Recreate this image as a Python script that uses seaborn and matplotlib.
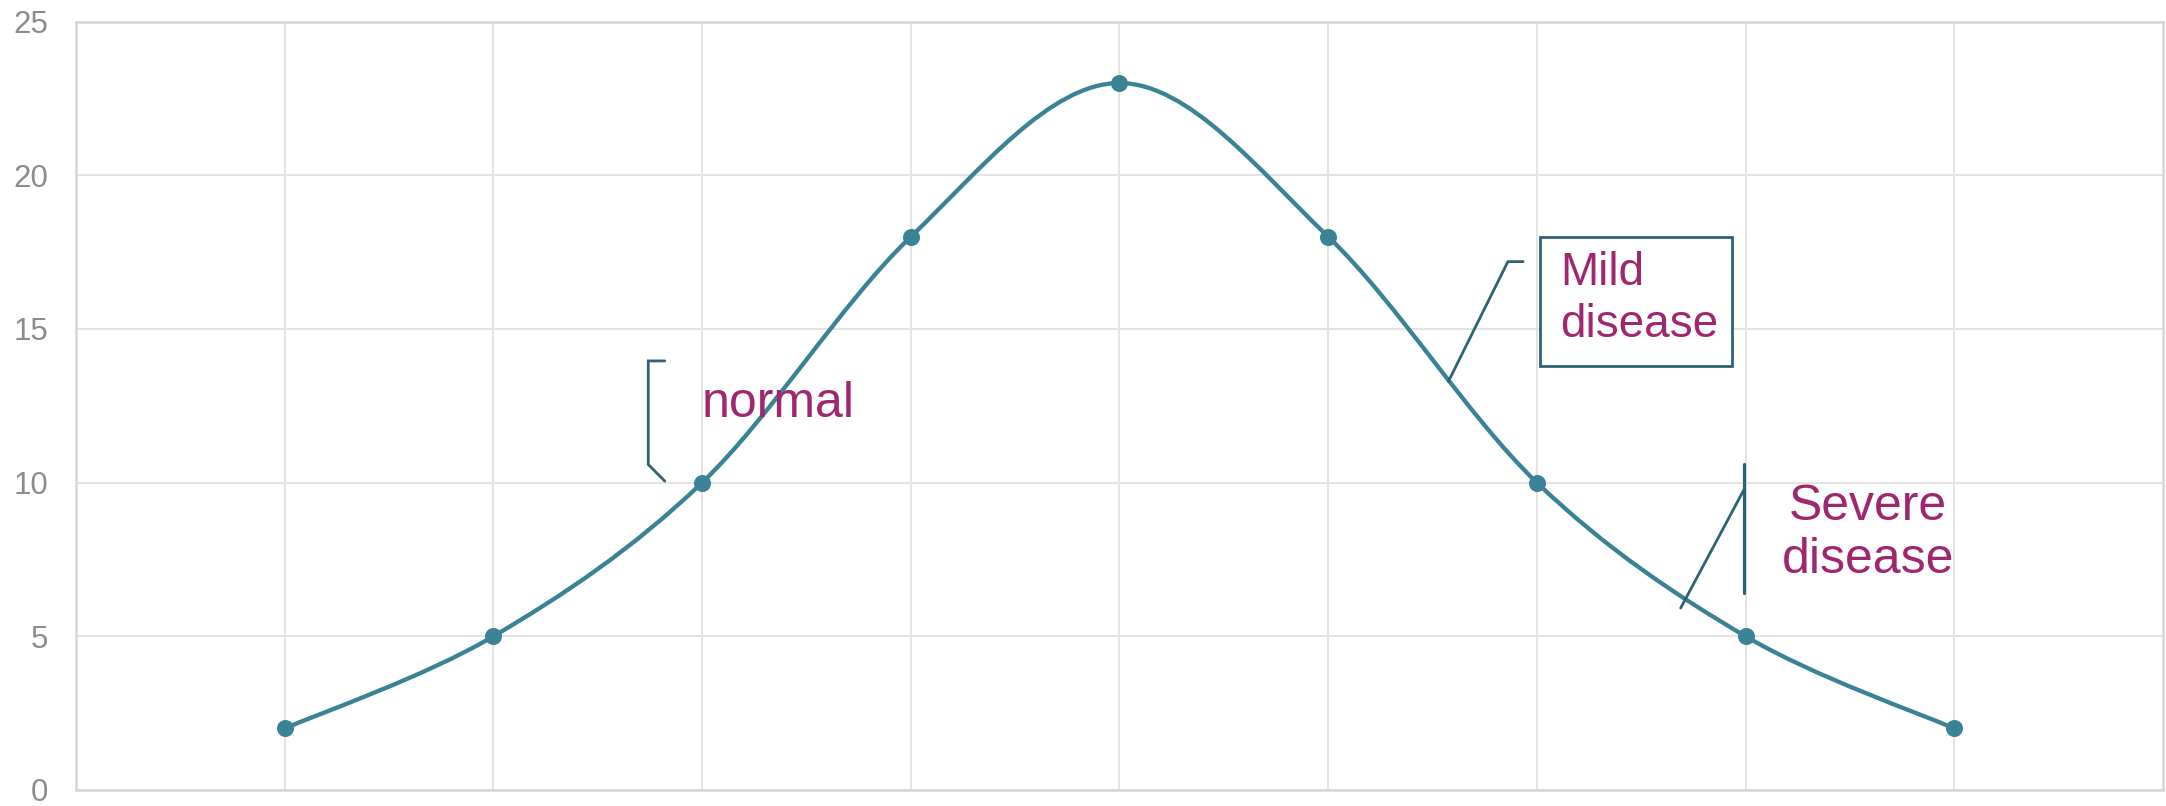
import matplotlib
matplotlib.use("Agg")
import matplotlib.pyplot as plt
import seaborn as sns
import numpy as np
import pandas as pd
from matplotlib.path import Path
from matplotlib.patches import PathPatch, Rectangle

# data
positions = [1, 2, 3, 4, 5, 6, 7, 8, 9]
values = [2, 5, 10, 18, 23, 18, 10, 5, 2]
y_ticks = [0, 5, 10, 15, 20, 25]

LINE = '#3A8296'
CALLOUT = '#2E6373'
TEXT = '#A0266E'
GRID = '#E3E3E3'

sns.set_style('white')
plt.rcParams['font.family'] = ['Liberation Sans', 'DejaVu Sans']

df = pd.DataFrame({'x': positions, 'y': values})

fig = plt.figure(figsize=(21.66, 8.06), dpi=100)
ax = fig.add_axes([0.0351, 0.0199, 0.9635, 0.9533])


def smooth_path(xs, ys, k=1 / 6):
    # bezier segments with catmull-rom style tangents (like a smoothed line chart)
    pts = np.column_stack([xs, ys]).astype(float)
    n = len(pts)
    verts = [pts[0]]
    codes = [Path.MOVETO]
    for i in range(n - 1):
        p0 = pts[max(i - 1, 0)]
        p1 = pts[i]
        p2 = pts[i + 1]
        p3 = pts[min(i + 2, n - 1)]
        c1 = p1 + (p2 - p0) * k
        c2 = p2 - (p3 - p1) * k
        verts += [c1, c2, p2]
        codes += [Path.CURVE4] * 3
    return Path(verts, codes)


ax.add_patch(PathPatch(smooth_path(df['x'], df['y']), facecolor='none',
                       edgecolor=LINE, lw=3.1, zorder=3, capstyle='round'))
sns.scatterplot(data=df, x='x', y='y', ax=ax, color=LINE, s=150,
                edgecolor=LINE, linewidth=0, zorder=4, legend=False)

ax.set_xlim(0, 10)
ax.set_ylim(0, 25)
ax.set_xticks(positions)
ax.set_xticklabels([])
ax.set_yticks(y_ticks)
ax.set_yticklabels([str(t) for t in y_ticks])
ax.tick_params(axis='y', length=0, pad=20, labelsize=22.5, labelcolor='#8C8C8C')
ax.tick_params(axis='x', length=0)
ax.grid(True, color=GRID, lw=1.4, zorder=0)
ax.set_axisbelow(True)
for side, sp in ax.spines.items():
    sp.set_color('#D6D6D6')
    sp.set_linewidth(1.8)
ax.set_xlabel('')
ax.set_ylabel('')

# callout: normal
ax.plot([2.821, 2.742, 2.742, 2.821], [13.96, 13.96, 10.59, 10.05],
        color=CALLOUT, lw=2.0, zorder=5, solid_joinstyle='miter')
ax.text(3.0, 12.55, 'normal', color=TEXT, fontsize=36, ha='left', va='center')

# callout: mild disease
ax.plot([6.576, 6.861, 6.934], [13.29, 17.19, 17.19], color=CALLOUT, lw=2.0, zorder=5)
ax.add_patch(Rectangle((7.013, 13.78), 0.921, 4.22, facecolor='white',
                       edgecolor=CALLOUT, lw=2.0, zorder=5))
ax.text(7.11, 15.98, 'Mild\ndisease', color=TEXT, fontsize=33, ha='left',
        va='center', linespacing=1.22, zorder=6)

# callout: severe disease
ax.plot([7.993, 7.993], [10.59, 6.42], color=CALLOUT, lw=2.3, zorder=5)
ax.plot([7.993, 7.689], [9.78, 5.92], color=CALLOUT, lw=2.0, zorder=5)
ax.text(8.585, 8.35, 'Severe\ndisease', color=TEXT, fontsize=36, ha='center',
        va='center', multialignment='center', linespacing=1.18, zorder=6)

fig.savefig('out.png', dpi=100)
plt.close(fig)
